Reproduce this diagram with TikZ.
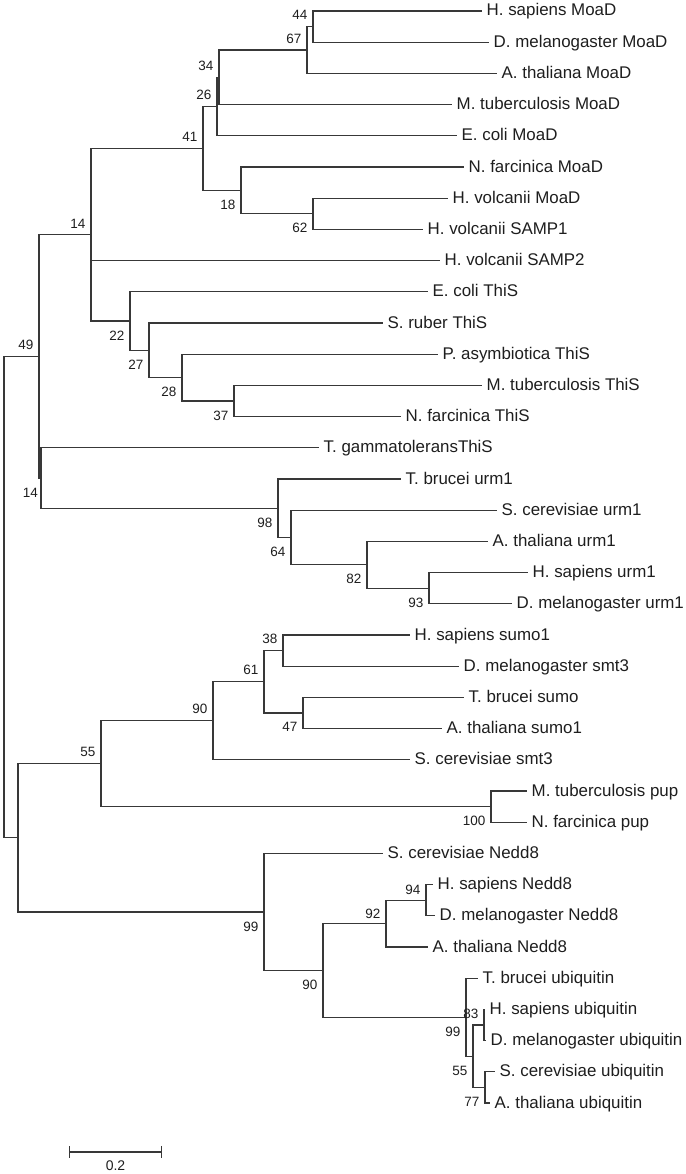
\documentclass[tikz,border=0pt]{standalone}
\usepackage{fontspec}
\setmainfont{Liberation Sans}
\usetikzlibrary{arrows.meta}
\definecolor{twiggray}{HTML}{383838}
\definecolor{inkgray}{HTML}{1E1E1E}

\begin{document}
\begin{tikzpicture}[x=1pt, y=-31.2pt,
  twig/.style={draw=twiggray, line width=1.3pt},
  leaf/.style={anchor=west, inner xsep=4.5pt, inner ysep=0pt, text height=10pt, text depth=0pt, text=inkgray, font=\fontsize{16.9}{19}\selectfont},
  boot/.style={inner sep=0pt, text=inkgray, font=\fontsize{13.5}{15}\selectfont},
  bootup/.style={boot, anchor=south east, xshift=-5.5pt, yshift=6.5pt},
  bootdn/.style={boot, anchor=north east, xshift=-5.5pt, yshift=-9.5pt}]
\useasboundingbox (0,-0.3526) rectangle (685,37.2756);

\node (l1) [leaf] at (482,0) {H. sapiens MoaD};
\node (l2) [leaf] at (489,1) {D. melanogaster MoaD};
\node (l3) [leaf] at (497,2) {A. thaliana MoaD};
\node (l4) [leaf] at (452,3) {M. tuberculosis MoaD};
\node (l5) [leaf] at (457,4) {E. coli MoaD};
\node (l6) [leaf] at (464,5) {N. farcinica MoaD};
\node (l7) [leaf] at (448,6) {H. volcanii MoaD};
\node (l8) [leaf] at (423,7) {H. volcanii SAMP1};
\node (l9) [leaf] at (440,8) {H. volcanii SAMP2};
\node (l10) [leaf] at (428,9) {E. coli ThiS};
\node (l11) [leaf] at (383,10) {S. ruber ThiS};
\node (l12) [leaf] at (438,11) {P. asymbiotica ThiS};
\node (l13) [leaf] at (482,12) {M. tuberculosis ThiS};
\node (l14) [leaf] at (401,13) {N. farcinica ThiS};
\node (l15) [leaf] at (319,14) {T. gammatoleransThiS};
\node (l16) [leaf] at (401,15) {T. brucei urm1};
\node (l17) [leaf] at (497,16) {S. cerevisiae urm1};
\node (l18) [leaf] at (488,17) {A. thaliana urm1};
\node (l19) [leaf] at (528,18) {H. sapiens urm1};
\node (l20) [leaf] at (512,19) {D. melanogaster urm1};
\node (l21) [leaf] at (410,20) {H. sapiens sumo1};
\node (l22) [leaf] at (459,21) {D. melanogaster smt3};
\node (l23) [leaf] at (464,22) {T. brucei sumo};
\node (l24) [leaf] at (442,23) {A. thaliana sumo1};
\node (l25) [leaf] at (410,24) {S. cerevisiae smt3};
\node (l26) [leaf] at (527,25) {M. tuberculosis pup};
\node (l27) [leaf] at (527,26) {N. farcinica pup};
\node (l28) [leaf] at (383,27) {S. cerevisiae Nedd8};
\node (l29) [leaf] at (433,28) {H. sapiens Nedd8};
\node (l30) [leaf] at (435,29) {D. melanogaster Nedd8};
\node (l31) [leaf] at (428,30) {A. thaliana Nedd8};
\node (l32) [leaf] at (478,31) {T. brucei ubiquitin};
\node (l33) [leaf] at (485,32) {H. sapiens ubiquitin};
\node (l34) [leaf] at (486,33) {D. melanogaster ubiquitin};
\node (l35) [leaf] at (495,34) {S. cerevisiae ubiquitin};
\node (l36) [leaf] at (490,35) {A. thaliana ubiquitin};

\coordinate (n44) at (313,0.5);
\coordinate (n67) at (307,1.25);
\coordinate (n34) at (219,2.125);
\coordinate (n26) at (217,3.0625);
\coordinate (n62) at (313,6.5);
\coordinate (n18) at (241,5.75);
\coordinate (n41) at (203,4.40625);
\coordinate (n37) at (234,12.5);
\coordinate (n28) at (182,11.75);
\coordinate (n27) at (149,10.875);
\coordinate (n22) at (130,9.9375);
\coordinate (n14a) at (91,7.171875);
\coordinate (n93) at (429,18.5);
\coordinate (n82) at (367,17.75);
\coordinate (n64) at (291,16.875);
\coordinate (n98) at (278,15.9375);
\coordinate (n14b) at (41,14.96875);
\coordinate (n49) at (39,11.0703125);
\coordinate (n38) at (283,20.5);
\coordinate (n47) at (303,22.5);
\coordinate (n61) at (264,21.5);
\coordinate (n90a) at (213,22.75);
\coordinate (n100) at (491,25.5);
\coordinate (n55a) at (101,24.125);
\coordinate (n94) at (426,28.5);
\coordinate (n92) at (386,29.25);
\coordinate (n83) at (484,32.5);
\coordinate (n77) at (485,34.5);
\coordinate (n55b) at (473,33.5);
\coordinate (n99b) at (466,32.25);
\coordinate (n90b) at (323,30.75);
\coordinate (n99a) at (264,28.875);
\coordinate (nlow) at (18,26.5);
\coordinate (root) at (4,18.78515625);

\draw [twig] (n44) |- (l1) (n44) |- (l2);
\draw [twig] (n67) |- (n44) (n67) |- (l3);
\draw [twig] (n34) |- (n67) (n34) |- (l4);
\draw [twig] (n26) |- (n34) (n26) |- (l5);
\draw [twig] (n41) |- (n26) (n41) |- (n18);
\draw [twig] (n18) |- (l6) (n18) |- (n62);
\draw [twig] (n62) |- (l7) (n62) |- (l8);
\draw [twig] (n14a) |- (n41) (n14a) |- (l9) (n14a) |- (n22);
\draw [twig] (n22) |- (l10) (n22) |- (n27);
\draw [twig] (n27) |- (l11) (n27) |- (n28);
\draw [twig] (n28) |- (l12) (n28) |- (n37);
\draw [twig] (n37) |- (l13) (n37) |- (l14);
\draw [twig] (n49) |- (n14a) (n49) |- (n14b);
\draw [twig] (n14b) |- (l15) (n14b) |- (n98);
\draw [twig] (n98) |- (l16) (n98) |- (n64);
\draw [twig] (n64) |- (l17) (n64) |- (n82);
\draw [twig] (n82) |- (l18) (n82) |- (n93);
\draw [twig] (n93) |- (l19) (n93) |- (l20);
\draw [twig] (root) |- (n49) (root) |- (nlow);
\draw [twig] (nlow) |- (n55a) (nlow) |- (n99a);
\draw [twig] (n55a) |- (n90a) (n55a) |- (n100);
\draw [twig] (n90a) |- (n61) (n90a) |- (l25);
\draw [twig] (n61) |- (n38) (n61) |- (n47);
\draw [twig] (n38) |- (l21) (n38) |- (l22);
\draw [twig] (n47) |- (l23) (n47) |- (l24);
\draw [twig] (n100) |- (l26) (n100) |- (l27);
\draw [twig] (n99a) |- (l28) (n99a) |- (n90b);
\draw [twig] (n90b) |- (n92) (n90b) |- (n99b);
\draw [twig] (n92) |- (n94) (n92) |- (l31);
\draw [twig] (n94) |- (l29) (n94) |- (l30);
\draw [twig] (n99b) |- (l32) (n99b) |- (n55b);
\draw [twig] (n55b) |- (n83) (n55b) |- (n77);
\draw [twig] (n83) |- (l33) (n83) |- (l34);
\draw [twig] (n77) |- (l35) (n77) |- (l36);

\node (b44) [bootup] at (n44) {44};
\node (b67) [bootup] at (n67) {67};
\node (b34) [bootup] at (n34) {34};
\node (b26) [bootup] at (n26) {26};
\node (b41) [bootup] at (n41) {41};
\node (b18) [bootdn] at (n18) {18};
\node (b62) [bootdn] at (n62) {62};
\node (b14a) [bootup] at (n14a) {14};
\node (b22) [bootdn] at (n22) {22};
\node (b27) [bootdn] at (n27) {27};
\node (b28) [bootdn] at (n28) {28};
\node (b37) [bootdn] at (n37) {37};
\node (b49) [bootup] at (n49) {49};
\node (b14b) [bootdn, xshift=2.5pt] at (n14b) {14};
\node (b98) [bootdn] at (n98) {98};
\node (b64) [bootdn] at (n64) {64};
\node (b82) [bootdn] at (n82) {82};
\node (b93) [bootdn] at (n93) {93};
\node (b38) [bootup] at (n38) {38};
\node (b61) [bootup] at (n61) {61};
\node (b90a) [bootup] at (n90a) {90};
\node (b47) [bootdn] at (n47) {47};
\node (b55a) [bootup] at (n55a) {55};
\node (b100) [bootdn] at (n100) {100};
\node (b99a) [bootdn] at (n99a) {99};
\node (b90b) [bootdn] at (n90b) {90};
\node (b92) [bootup, yshift=-1.5pt] at (n92) {92};
\node (b94) [bootup, yshift=-1.5pt] at (n94) {94};
\node (b83) [bootup] at (n83) {83};
\node (b99b) [bootdn] at (n99b) {99};
\node (b55b) [bootdn] at (n55b) {55};
\node (b77) [bootdn] at (n77) {77};

\coordinate (sbl) at (69,36.57);
\coordinate (sbr) at (162,36.57);
\draw [twig, {Bar[width=12pt]}-{Bar[width=12pt]}] (sbl) -- (sbr);
\node (sbtext) [boot, anchor=north, font=\fontsize{14}{16}\selectfont] at (115.5,36.83) {0.2};
\end{tikzpicture}
\end{document}
